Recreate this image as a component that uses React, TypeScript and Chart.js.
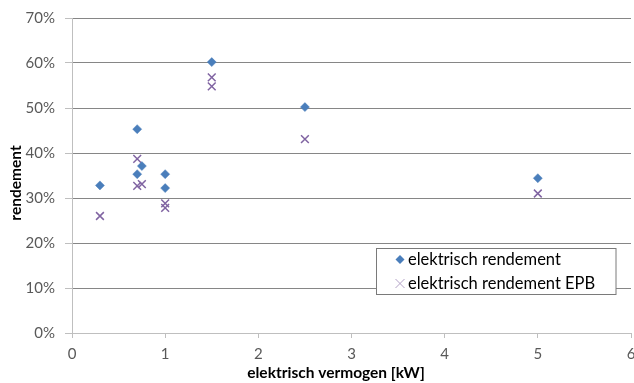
import React, { useEffect, useRef } from 'react';
import { Chart, registerables } from 'chart.js';

Chart.register(...registerables);

// ---- data ----
const seriesLabels = ['elektrisch rendement', 'elektrisch rendement EPB'];
const elektrischX = [0.3, 0.7, 0.7, 0.75, 1.0, 1.0, 1.5, 2.5, 5.0];
const elektrischY = [0.328, 0.453, 0.353, 0.371, 0.353, 0.322, 0.602, 0.502, 0.344];
const epbX = [0.3, 0.7, 0.7, 0.75, 1.0, 1.0, 1.5, 1.5, 2.5, 5.0];
const epbY = [0.26, 0.387, 0.327, 0.331, 0.288, 0.278, 0.568, 0.548, 0.431, 0.31];
const xTitle = 'elektrisch vermogen [kW]';
const yTitle = 'rendement';
const xMin = 0, xMax = 6, xStep = 1;
const yMin = 0, yMax = 0.7, yStep = 0.1;

const BLUE = '#4a7ebb';
const PURPLE = '#8064a2';
const FONT = 'Lato, "Open Sans", sans-serif';

const overlayPlugin = {
  id: 'overlay',
  afterDraw(chart: any) {
    const ctx = chart.ctx as CanvasRenderingContext2D;
    ctx.save();
    // axis titles
    ctx.fillStyle = '#000000';
    ctx.font = `bold 15.5px ${FONT}`;
    ctx.textAlign = 'center';
    ctx.textBaseline = 'middle';
    ctx.fillText(xTitle, 336, 373);
    ctx.save();
    ctx.translate(16, 183);
    ctx.rotate(-Math.PI / 2);
    ctx.fillText(yTitle, 0, 0);
    ctx.restore();

    // legend box
    const lx = 376.5, ly = 248.5, lw = 239.5, lh = 46;
    ctx.fillStyle = '#ffffff';
    ctx.fillRect(lx, ly, lw, lh);
    ctx.strokeStyle = '#7a7a7a';
    ctx.lineWidth = 1;
    ctx.strokeRect(lx, ly, lw, lh);

    // entry 1: diamond
    const mx = 400;
    const r1y = 259.5, r2y = 283.5;
    ctx.fillStyle = BLUE;
    ctx.beginPath();
    ctx.moveTo(mx, r1y - 4.5);
    ctx.lineTo(mx + 4.5, r1y);
    ctx.lineTo(mx, r1y + 4.5);
    ctx.lineTo(mx - 4.5, r1y);
    ctx.closePath();
    ctx.fill();
    // entry 2: cross
    ctx.strokeStyle = '#b3a2c7';
    ctx.lineWidth = 1;
    ctx.beginPath();
    ctx.moveTo(mx - 4.5, r2y - 4.5);
    ctx.lineTo(mx + 4.5, r2y + 4.5);
    ctx.moveTo(mx + 4.5, r2y - 4.5);
    ctx.lineTo(mx - 4.5, r2y + 4.5);
    ctx.stroke();

    ctx.fillStyle = '#000000';
    ctx.font = `16.5px ${FONT}`;
    ctx.textAlign = 'left';
    ctx.textBaseline = 'middle';
    ctx.fillText(seriesLabels[0], 408, r1y);
    ctx.fillText(seriesLabels[1], 408, r2y);
    ctx.restore();
  },
};

export default function App() {
  const ref = useRef<HTMLCanvasElement | null>(null);

  useEffect(() => {
    document.body.style.margin = '0';
    const canvas = ref.current;
    if (!canvas) return;
    const chart = new Chart(canvas, {
      type: 'scatter',
      data: {
        datasets: [
          {
            label: seriesLabels[0],
            data: elektrischX.map((x, i) => ({ x, y: elektrischY[i] })),
            pointStyle: 'rectRot',
            pointRadius: 4.5,
            pointHoverRadius: 4.5,
            backgroundColor: BLUE,
            borderColor: BLUE,
            borderWidth: 0.5,
          },
          {
            label: seriesLabels[1],
            data: epbX.map((x, i) => ({ x, y: epbY[i] })),
            pointStyle: 'crossRot',
            pointRadius: 5.5,
            pointHoverRadius: 5.5,
            backgroundColor: PURPLE,
            borderColor: PURPLE,
            borderWidth: 1.5,
          },
        ],
      },
      options: {
        animation: false,
        responsive: false,
        devicePixelRatio: 1,
        layout: { autoPadding: false, padding: { top: 18, right: 3, left: 0, bottom: 0 } },
        plugins: {
          legend: { display: false },
          tooltip: { enabled: false },
        },
        scales: {
          x: {
            type: 'linear',
            min: xMin,
            max: xMax,
            ticks: {
              stepSize: xStep,
              color: '#595959',
              font: { family: FONT, size: 15 },
              padding: 7,
              maxRotation: 0,
            },
            grid: {
              drawOnChartArea: false,
              drawTicks: true,
              tickLength: 5,
              color: '#bfbfbf',
            },
            border: { color: '#bfbfbf', width: 1 },
            afterFit(scale: any) {
              scale.height = 50;
              scale.paddingLeft = 0;
              scale.paddingRight = 0;
            },
          },
          y: {
            type: 'linear',
            min: yMin,
            max: yMax,
            ticks: {
              stepSize: yStep,
              color: '#595959',
              font: { family: FONT, size: 15 },
              padding: 10,
              callback: (v: any) => `${Math.round(Number(v) * 100)}%`,
            },
            grid: {
              drawTicks: true,
              tickLength: 7,
              color: (c: any) => (c.tick && c.tick.value === 0 ? 'rgba(0,0,0,0)' : '#868686'),
              tickColor: '#bfbfbf',
            },
            border: { color: '#bfbfbf', width: 1 },
            afterFit(scale: any) {
              scale.width = 72;
              scale.paddingTop = 0;
              scale.paddingBottom = 0;
            },
          },
        },
      },
      plugins: [overlayPlugin],
    });
    return () => chart.destroy();
  }, []);

  return <canvas ref={ref} width={634} height={383} style={{ display: 'block', width: 634, height: 383 }} />;
}
